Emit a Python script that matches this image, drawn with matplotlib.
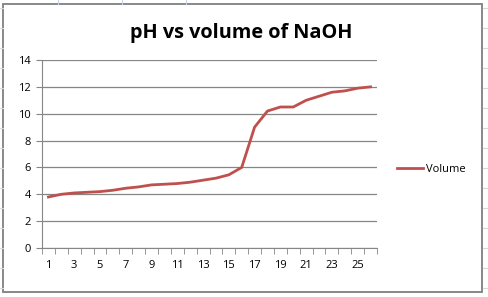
import matplotlib
matplotlib.use('Agg')
import matplotlib.pyplot as plt
from matplotlib.lines import Line2D
from matplotlib.patches import Rectangle

# sample number vs pH
samples = list(range(1, 27))
ph = [3.8, 4.0, 4.1, 4.15, 4.2, 4.3, 4.45, 4.55, 4.7, 4.75, 4.8, 4.9, 5.05,
      5.2, 5.45, 6.0, 9.0, 10.2, 10.5, 10.5, 11.0, 11.3, 11.6, 11.7, 11.9, 12.0]
x_labels = [str(n) for n in range(1, 27, 2)]
y_ticks = [0, 2, 4, 6, 8, 10, 12, 14]

plt.rcParams['font.family'] = ['Open Sans', 'DejaVu Sans']
fig = plt.figure(figsize=(4.88, 2.97), dpi=100)

# spreadsheet cells behind the chart
W, H = 488, 297
for xc in [58, 122, 186]:
    fig.add_artist(Line2D([xc / W, xc / W], [1, 1 - 4 / H], color='#c6d3e6', lw=0.8))
for yc in [8, 28, 48, 68, 88, 108, 128, 148, 168, 188, 208, 228, 248, 268, 288]:
    fig.add_artist(Line2D([1 - 5 / W, 1], [1 - yc / H, 1 - yc / H], color='#d9d9d9', lw=0.8))
    fig.add_artist(Line2D([0, 3 / W], [1 - yc / H, 1 - yc / H], color='#d9d9d9', lw=0.8))
fig.add_artist(Rectangle((3 / W, 5 / H), 479 / W, 288 / H, fill=False,
                         edgecolor='#7f7f7f', lw=1.3))

ax = fig.add_axes([42 / W, 1 - 248 / H, 335 / W, 188 / H])
ax.plot(samples, ph, color='#c0504d', lw=2.0, label='Volume', solid_joinstyle='round')

ax.set_xlim(0.5, 26.5)
ax.set_ylim(0, 14)
ax.set_yticks(y_ticks)
ax.set_xticks(range(1, 27, 2))
ax.set_xticklabels(x_labels)
ax.set_xticks([i + 0.5 for i in range(0, 27)], minor=True)
ax.tick_params(axis='x', which='major', length=0, pad=9, labelsize=8)
ax.tick_params(axis='x', which='minor', length=4, color='#868686', direction='out')
ax.tick_params(axis='y', length=4, color='#868686', labelsize=8, pad=4)
ax.grid(axis='y', color='#868686', lw=0.9)
ax.set_axisbelow(True)
for side in ['top', 'right']:
    ax.spines[side].set_visible(False)
for side in ['left', 'bottom']:
    ax.spines[side].set_color('#868686')

fig.text(241 / W, 1 - 33 / H, 'pH vs volume of NaOH', ha='center', va='center',
         fontsize=14.3, fontweight='bold')

ax.legend(loc='center left', bbox_to_anchor=(387 / W, 1 - 169 / H),
          bbox_transform=fig.transFigure, frameon=False, fontsize=8,
          handlelength=2.3, handletextpad=0.3)

fig.savefig('out.png', dpi=100)
